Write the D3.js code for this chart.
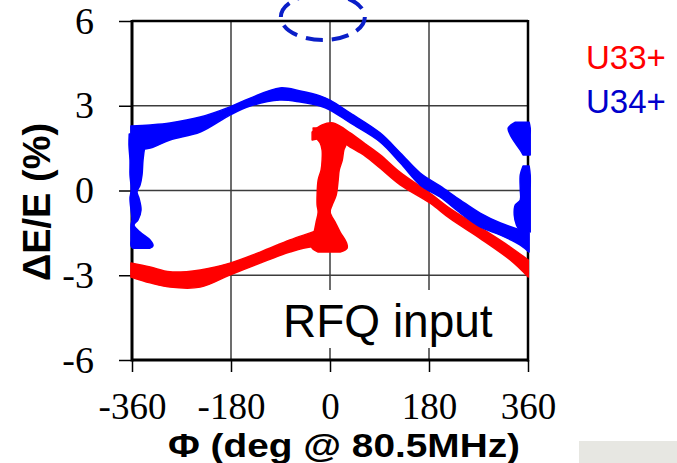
<!DOCTYPE html>
<html>
<head>
<meta charset="utf-8">
<script src="https://cdn.jsdelivr.net/npm/d3@7"></script>
<style>
  html, body { margin: 0; padding: 0; background: #fff; overflow: hidden; }
  svg { display: block; }
</style>
</head>
<body>
<svg id="chart" width="677" height="463"></svg>
<script>
// ---- Axis ticks ----
const phaseTicks = [-360, -180, 0, 180, 360];
const energyTicks = [-6, -3, 0, 3, 6];
const phaseGrid = [-180, 0, 180];
const energyGrid = [-3, 0, 3];

// ---- U34+ (blue): main band, upper / lower edge vs phase ----
const u34Phase = [-362, -327, -291, -236, -182, -145, -91, -54, -18, 0, 37, 91, 128, 164, 200, 237, 273, 310, 346, 362];
const u34Hi    = [2.28, 2.32, 2.39, 2.60, 2.96, 3.27, 3.63, 3.52, 3.35, 3.20, 2.74, 2.04, 1.33, 0.62, 0.16, -0.34, -0.80, -1.15, -1.40, -1.50];
const u34Lo    = [1.43, 1.50, 1.79, 2.07, 2.67, 2.99, 3.20, 3.13, 2.99, 2.85, 2.39, 1.72, 0.97, 0.19, -0.23, -0.80, -1.29, -1.58, -1.93, -2.18];

// U34+ wrap-around strip at phase -360 (energy, phase left / right)
const u34LeftE  = [2.00, 1.61, 1.08, 0.55, 0.19, -0.05, -0.27, -0.69, -1.04, -1.22, -1.47, -1.75, -1.96, -2.04];
const u34LeftP0 = [-365, -365.5, -363.6, -363.6, -361.8, -361.8, -363.6, -361.8, -360, -361.8, -361.8, -361.8, -361.8, -358.2];
const u34LeftP1 = [-332, -336.3, -340, -341.8, -345.4, -350.9, -347.3, -343.6, -349.1, -356.4, -345.4, -327.2, -321.8, -327.2];

// U34+ wrap-around pieces at phase +360
const u34RightAE  = [2.42, 2.21, 1.96, 1.68, 1.43, 1.26];
const u34RightAP0 = [337, 324, 328, 337, 346, 351];
const u34RightAP1 = [362, 364, 364, 364, 364, 364];
const u34RightBE  = [0.87, 0.55, 0.02, -0.34, -0.51, -0.87, -1.22, -1.47];
const u34RightBP0 = [351, 346, 346, 346, 337, 335, 339, 346];
const u34RightBP1 = [362, 364, 364, 364, 364, 364, 364, 364];

// ---- U33+ (red): lower-left band ----
const u33LowPhase = [-362, -327, -291, -236, -182, -127, -73, -36, -15];
const u33LowHi    = [-2.57, -2.71, -2.88, -2.81, -2.57, -2.18, -1.75, -1.50, -1.35];
const u33LowLo    = [-3.06, -3.27, -3.42, -3.42, -2.99, -2.57, -2.18, -2.00, -2.05];

// U33+ rising part near phase 0 (energy, phase left / right)
const u33RiseE  = [2.21, 1.96, 1.68, 1.43, 1.08, 0.73, 0.37, -0.16, -0.51, -0.76, -1.12, -1.47, -1.82, -2.04, -2.18];
const u33RiseP0 = [-30.7, -28.8, -17.9, -14.3, -14.3, -16.1, -21.5, -23.4, -23.4, -21.5, -25.2, -28.8, -34.3, -32.5, -21.5];
const u33RiseP1 = [0.2, 14.8, 29.5, 25.1, 22.3, 16.8, 14.8, 11.2, 3.9, 0.2, 9.3, 18.4, 29.3, 31.1, 18.4];

// U33+ descending band
const u33DescPhase = [-32.5, -14.3, 5.7, 36.7, 64.0, 91.3, 127.6, 182.2, 218.6, 273.2, 327.8, 360.5];
const u33DescHi    = [2.07, 2.32, 2.39, 2.04, 1.65, 1.26, 0.64, -0.10, -0.64, -1.31, -2.00, -2.46];
const u33DescLo    = [1.79, 1.86, 1.89, 1.54, 1.22, 0.79, 0.20, -0.45, -1.00, -1.70, -2.46, -3.06];

const seriesNames = ["U33+", "U34+"];
const seriesColors = ["#ff0000", "#0000cc"];

// ---- Layout ----
const svg = d3.select("#chart");
const x = d3.scaleLinear().domain([-360, 360]).range([132, 528]);
const y = d3.scaleLinear().domain([-6, 6]).range([360, 21]);

// grid lines
const grid = svg.append("g").attr("stroke", "#3c3c3c").attr("stroke-width", 1.5);
grid.selectAll("line.v").data(phaseGrid).join("line").attr("class", "v")
  .attr("x1", d => x(d)).attr("x2", d => x(d)).attr("y1", y(6)).attr("y2", y(-6));
grid.selectAll("line.h").data(energyGrid).join("line").attr("class", "h")
  .attr("x1", x(-360)).attr("x2", x(360)).attr("y1", d => y(d)).attr("y2", d => y(d));

// label box in the lower right of the plot
svg.append("rect").attr("x", 268).attr("y", 290).attr("width", x(360) - 268).attr("height", 58).attr("fill", "#fff");

// axes
const serif = "'Liberation Serif', 'Times New Roman', serif";
const yAxis = svg.append("g").attr("transform", `translate(${x(-360)},0)`)
  .call(d3.axisLeft(y).tickValues(energyTicks).tickSize(13).tickPadding(25).tickFormat(d => String(d)));
const xAxis = svg.append("g").attr("transform", `translate(0,${y(-6)})`)
  .call(d3.axisBottom(x).tickValues(phaseTicks).tickSize(12).tickPadding(21).tickFormat(d => String(d)));
[yAxis, xAxis].forEach(a => {
  a.select(".domain").remove();
  a.selectAll(".tick line").attr("stroke", "#000").attr("stroke-width", 1.5);
  a.selectAll(".tick text").attr("font-family", serif).attr("font-size", 38).attr("fill", "#000");
});
xAxis.selectAll(".tick text").attr("font-size", 37);

// frame
const frame = svg.append("g").attr("stroke", "#000");
frame.append("line").attr("x1", x(-360)).attr("x2", x(360)).attr("y1", y(6)).attr("y2", y(6)).attr("stroke-width", 2.5);
frame.append("line").attr("x1", x(-360)).attr("x2", x(360)).attr("y1", y(-6)).attr("y2", y(-6)).attr("stroke-width", 3);
frame.append("line").attr("x1", x(-360)).attr("x2", x(-360)).attr("y1", y(6) - 1).attr("y2", y(-6) + 1.5).attr("stroke-width", 3);
frame.append("line").attr("x1", x(360)).attr("x2", x(360)).attr("y1", y(6) - 1).attr("y2", y(-6) + 1.5).attr("stroke-width", 2.5);

// ---- bands ----
const bandX = d3.area().curve(d3.curveCatmullRom)
  .x(d => x(d[0])).y0(d => y(d[2])).y1(d => y(d[1]));
const bandY = d3.area().curve(d3.curveCatmullRom)
  .y(d => y(d[0])).x0(d => x(d[1])).x1(d => x(d[2]));

function drawBand(gen, a, b, c, color) {
  const rows = a.map((v, i) => [v, b[i], c[i]]);
  svg.append("path").datum(rows).attr("d", gen)
    .attr("fill", color).attr("stroke", color).attr("stroke-width", 1.5).attr("stroke-linejoin", "round");
}

const red = "#ff0000", blue = "#0000ff";
drawBand(bandX, u33LowPhase, u33LowHi, u33LowLo, red);
drawBand(bandY, u33RiseE, u33RiseP0, u33RiseP1, red);
drawBand(bandX, u33DescPhase, u33DescHi, u33DescLo, red);

drawBand(bandX, u34Phase, u34Hi, u34Lo, blue);
drawBand(bandY, u34LeftE, u34LeftP0, u34LeftP1, blue);
drawBand(bandY, u34RightAE, u34RightAP0, u34RightAP1, blue);
drawBand(bandY, u34RightBE, u34RightBP0, u34RightBP1, blue);

// dashed marker ellipse above the plot top
svg.append("ellipse").attr("cx", x(-13)).attr("cy", 17).attr("rx", 42).attr("ry", 23)
  .attr("fill", "none").attr("stroke", "#0a1ec8").attr("stroke-width", 4)
  .attr("stroke-dasharray", "17 9");

// ---- text ----
const sans = "'Liberation Sans', Arial, sans-serif";
svg.append("text").attr("x", 283).attr("y", 337)
  .attr("font-family", sans).attr("font-size", 46).attr("fill", "#000").text("RFQ input");

svg.append("text").attr("transform", "translate(50,202) rotate(-90)")
  .attr("text-anchor", "middle").attr("font-family", sans).attr("font-weight", "bold")
  .attr("font-size", 38).attr("fill", "#000").text("ΔE/E (%)");

svg.append("text").attr("x", 168).attr("y", 457)
  .attr("font-family", sans).attr("font-weight", "bold")
  .attr("font-size", 34).attr("textLength", 352).attr("lengthAdjust", "spacingAndGlyphs")
  .attr("fill", "#000").text("Φ (deg @ 80.5MHz)");

svg.selectAll("text.legend").data(seriesNames).join("text").attr("class", "legend")
  .attr("x", 586).attr("y", (d, i) => 69 + i * 44)
  .attr("font-family", sans).attr("font-size", 33)
  .attr("fill", (d, i) => seriesColors[i]).text(d => d);

// grey panel in the bottom-right corner
svg.append("rect").attr("x", 579).attr("y", 441).attr("width", 98).attr("height", 22).attr("fill", "#e7e7e2");
</script>
</body>
</html>
